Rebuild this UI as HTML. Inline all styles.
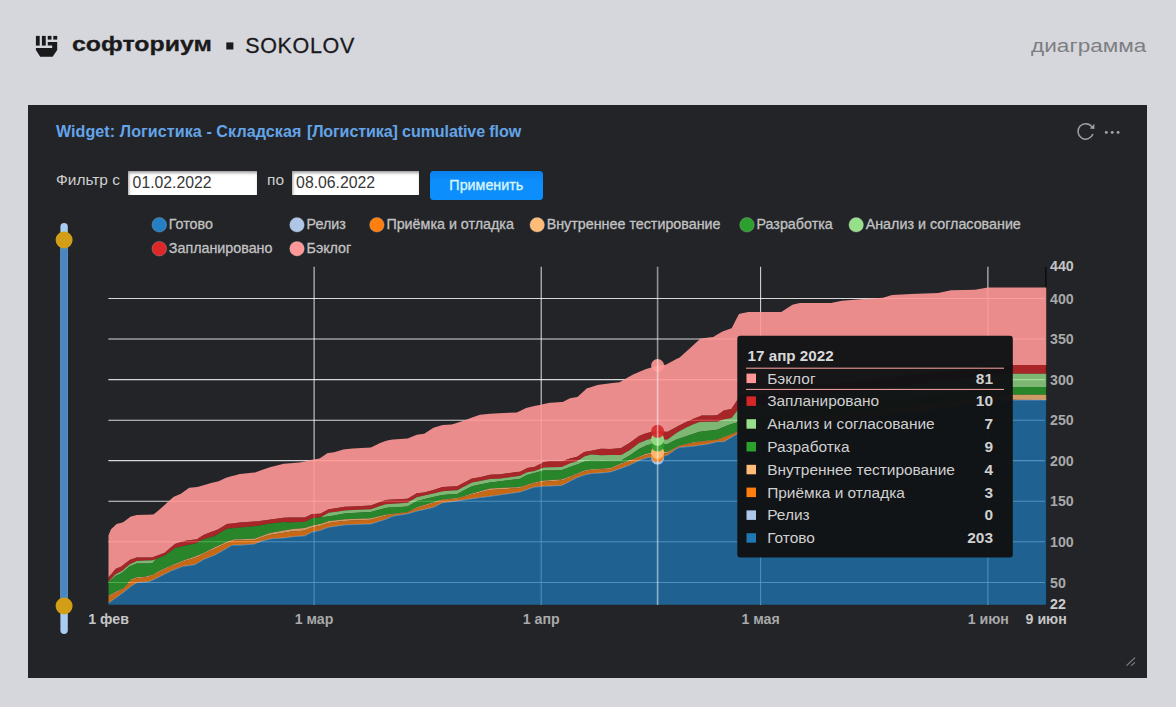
<!DOCTYPE html>
<html lang="ru"><head><meta charset="utf-8"><title>диаграмма</title>
<style>
html,body{margin:0;padding:0}
body{width:1176px;height:707px;background:#d6d7dc;position:relative;overflow:hidden;font-family:"Liberation Sans",sans-serif}
.abs{position:absolute;white-space:nowrap}
#card{position:absolute;left:28px;top:105px;width:1119px;height:572.5px;background:#222428}
#brand{left:72.2px;top:29.4px;font-size:21px;font-weight:bold;color:#1a1a1c;line-height:30px;transform-origin:0 0;transform:scaleX(1.185);-webkit-text-stroke:0.3px #1a1a1c}
#sok{left:245.2px;top:30.8px;font-size:21.5px;color:#1a1a1c;line-height:30px;letter-spacing:0.65px;-webkit-text-stroke:0.3px #1a1a1c}
#diag{right:30px;top:33.0px;font-size:17.5px;color:#7d7e82;line-height:26px;transform-origin:100% 0;transform:scaleX(1.29)}
#title{left:55.9px;top:120.5px;font-size:16.1px;font-weight:bold;color:#64a4e9;line-height:20px}
.lbl{font-size:15.47px;color:#cfcfcf;line-height:16px}
.inp{position:absolute;top:171.3px;height:23.6px;width:128.5px;background:#fff;box-sizing:border-box;font-size:15.8px;line-height:24.6px;color:#383838;padding-left:4.6px;box-shadow:inset 1px 2px 3px rgba(0,0,0,.38)}
#btn{position:absolute;left:430px;top:170.5px;width:112.6px;height:29px;border-radius:3.5px;background:linear-gradient(#0a80ec,#0c8efc 35%);color:#d8f4ff;font-size:14.3px;line-height:29.6px;text-align:center;-webkit-text-stroke:0.35px #d8f4ff}
svg{position:absolute;left:0;top:0}
svg text{font-family:"Liberation Sans",sans-serif}
#wrap{position:absolute;left:0;top:0;width:1176px;height:707px}
</style></head><body>
<div id="wrap">
<div id="card"></div>
<div class="abs" id="brand">софториум</div>
<div class="abs" id="sok">SOKOLOV</div>
<div class="abs" id="diag">диаграмма</div>
<div class="abs" id="title"><span style="letter-spacing:0.07px">Widget: Логистика - Складская</span><span style="margin-left:5.5px;letter-spacing:-0.12px">[Логистика] cumulative flow</span></div>
<div class="abs lbl" style="left:56px;top:171.5px">Фильтр с</div>
<div class="inp" style="left:128px">01.02.2022</div>
<div class="abs lbl" style="left:267px;top:171.5px">по</div>
<div class="inp" style="left:291.5px;width:127.8px">08.06.2022</div>
<div id="btn">Применить</div>
<svg width="1176" height="707" viewBox="0 0 1176 707">
<!-- logo -->
<g fill="#1a1a1c">
<rect x="35.9" y="35.9" width="3.8" height="9.7"/><rect x="41.9" y="35.9" width="3.85" height="9.7"/>
<rect x="47.75" y="35.9" width="3.75" height="3.7"/><rect x="53.3" y="35.9" width="3.9" height="3.7"/>
<path d="M47.75,42 H57.2 V49.9 L52.6,56.7 H40.2 L35.9,49.9 V47.9 H52.2 V45.6 H47.75 Z"/>
<rect x="226.3" y="42.4" width="7.1" height="7.1"/>
</g>
<!-- reload + dots -->
<g fill="none" stroke="#9ca1a7" stroke-width="1.5"><path d="M1091.77,126.66 A7.7,7.7 0 1 0 1092.94,134.03"/></g>
<path d="M1094.4,123.8 V129 L1089.7,128.5 Z" fill="#9ca1a7"/>
<g fill="#a4a8ae"><circle cx="1106.3" cy="132.4" r="1.45"/><circle cx="1112.2" cy="132.4" r="1.45"/><circle cx="1118.1" cy="132.4" r="1.45"/></g>
<g stroke="#80838a" stroke-width="1.2"><line x1="1126.5" y1="665.6" x2="1135" y2="657.6"/><line x1="1131.1" y1="665.6" x2="1135" y2="662.4"/></g>
<!-- slider -->
<rect x="60.4" y="223" width="7.4" height="411" rx="3.7" fill="#a9cdf0"/>
<rect x="60.4" y="240" width="7.4" height="366" fill="#4a87c0"/>
<circle cx="64.1" cy="240" r="8.5" fill="#d39e17"/><circle cx="64.1" cy="606" r="8.5" fill="#d39e17"/>
<!-- grid -->
<g stroke="#ffffff" stroke-opacity="0.82" stroke-width="1.05"><line x1="108.4" x2="1046" y1="298.4" y2="298.4"/><line x1="108.4" x2="1046" y1="339.0" y2="339.0"/><line x1="108.4" x2="1046" y1="379.6" y2="379.6"/><line x1="108.4" x2="1046" y1="420.2" y2="420.2"/><line x1="108.4" x2="1046" y1="460.6" y2="460.6"/><line x1="108.4" x2="1046" y1="501.2" y2="501.2"/><line x1="108.4" x2="1046" y1="541.7" y2="541.7"/><line x1="108.4" x2="1046" y1="582.4" y2="582.4"/><line x1="314.1" x2="314.1" y1="266.8" y2="605"/><line x1="541.2" x2="541.2" y1="266.8" y2="605"/><line x1="760.6" x2="760.6" y1="266.8" y2="605"/><line x1="987.9" x2="987.9" y1="266.8" y2="605"/></g>
<line x1="1045.8" x2="1045.8" y1="267" y2="605" stroke="#0c0d0e" stroke-width="1.5"/>
<!-- areas -->
<path d="M108.5,535.1 L108.6,534.9 L111.0,529.3 L115.5,525.0 L116.5,524.1 L121.4,522.7 L123.0,522.3 L123.8,521.7 L129.8,517.2 L130.3,516.8 L131.0,516.6 L136.8,514.9 L136.9,514.9 L145.2,514.7 L147.6,514.7 L152.4,514.6 L153.3,514.6 L156.0,512.4 L159.5,509.5 L160.7,508.5 L164.3,505.2 L171.4,498.8 L173.5,496.9 L175.0,496.3 L180.9,493.8 L183.3,492.0 L185.7,490.3 L189.2,487.7 L195.2,487.2 L196.4,487.1 L197.4,487.0 L200.0,486.3 L203.6,485.2 L211.0,483.0 L214.3,482.3 L217.6,481.5 L218.7,481.3 L225.4,478.0 L226.2,477.8 L226.8,477.6 L232.1,476.1 L234.5,475.5 L239.7,474.0 L240.0,474.0 L254.4,472.6 L255.1,472.5 L256.3,472.1 L261.8,470.1 L269.1,467.5 L270.6,467.0 L272.8,466.4 L283.8,463.7 L290.0,463.3 L291.2,463.2 L293.0,463.0 L299.2,462.6 L304.7,461.4 L310.2,460.1 L312.0,459.8 L319.4,458.6 L320.3,458.0 L327.7,453.1 L328.6,453.0 L334.1,452.2 L343.3,449.4 L345.1,449.2 L352.5,448.5 L370.9,447.6 L380.1,443.0 L385.6,441.1 L389.3,439.9 L393.0,439.6 L407.6,438.4 L416.8,434.7 L424.2,433.8 L433.4,427.7 L442.6,425.1 L451.8,424.6 L457.3,422.8 L462.8,420.9 L472.0,417.6 L480.0,414.7 L490.0,413.8 L494.7,413.4 L498.4,413.2 L516.8,412.5 L520.0,410.9 L526.0,407.9 L527.1,407.7 L534.3,406.1 L540.7,404.8 L543.8,404.1 L549.9,402.8 L551.0,402.7 L561.7,402.1 L562.7,402.0 L570.0,398.3 L570.1,398.2 L577.1,397.0 L577.4,396.9 L584.3,390.7 L586.6,388.6 L591.4,387.0 L597.6,384.9 L601.0,384.5 L610.5,383.3 L619.7,382.2 L621.2,381.3 L629.5,376.6 L632.6,374.8 L639.0,372.1 L645.4,369.3 L646.2,369.1 L652.1,367.2 L657.4,365.6 L657.5,365.6 L665.7,364.7 L667.6,363.7 L676.4,359.1 L679.7,357.4 L680.2,357.1 L686.3,351.5 L691.3,347.0 L692.9,345.5 L699.5,339.5 L700.4,338.7 L701.7,338.5 L708.4,337.6 L713.3,336.9 L717.2,334.6 L722.5,331.4 L723.8,330.9 L726.0,330.2 L731.5,328.3 L731.7,328.2 L737.0,317.8 L739.0,313.9 L741.0,313.5 L748.2,312.1 L781.0,312.1 L781.3,312.1 L792.4,304.7 L799.7,302.9 L800.0,302.9 L831.0,302.9 L842.0,300.7 L860.0,299.2 L883.0,297.7 L892.0,295.0 L892.3,294.9 L910.7,294.0 L938.2,293.1 L951.0,290.3 L951.1,290.3 L975.0,289.8 L987.9,287.6 L988.0,287.6 L1013.0,287.6 L1046.3,287.6 L1046.3,365.0 L1013.0,365.0 L988.0,366.0 L987.9,366.0 L975.0,367.8 L951.1,371.0 L951.0,371.0 L938.2,372.3 L910.7,375.1 L892.3,377.0 L892.0,377.0 L883.0,378.1 L860.0,380.8 L842.0,383.0 L831.0,383.8 L800.0,386.0 L799.7,386.1 L792.4,388.8 L781.3,392.9 L781.0,393.0 L748.2,394.6 L741.0,395.0 L739.0,397.7 L737.0,400.4 L731.7,408.6 L731.5,408.9 L726.0,410.1 L723.8,410.6 L722.5,411.6 L717.2,415.3 L713.3,415.4 L708.4,415.4 L701.7,415.5 L700.4,416.0 L699.5,416.4 L692.9,419.1 L691.3,419.8 L686.3,421.9 L680.2,425.0 L679.7,425.2 L676.4,426.9 L667.6,431.8 L665.7,431.7 L657.5,431.3 L657.4,431.3 L652.1,431.8 L646.2,433.3 L645.4,433.6 L639.0,436.0 L632.6,440.8 L629.5,443.1 L621.2,448.1 L619.7,448.2 L610.5,449.0 L601.0,448.8 L597.6,449.5 L591.4,450.8 L586.6,451.6 L584.3,452.0 L577.4,456.6 L577.1,456.8 L570.1,458.6 L570.0,458.6 L562.7,460.9 L561.7,461.2 L551.0,461.2 L549.9,461.3 L543.8,462.1 L540.7,463.7 L534.3,466.9 L527.1,468.1 L526.0,468.7 L520.0,471.7 L516.8,472.1 L498.4,474.4 L494.7,474.6 L490.0,474.8 L480.0,477.2 L472.0,478.5 L462.8,483.3 L457.3,486.2 L451.8,486.5 L442.6,487.1 L433.4,489.9 L424.2,492.6 L416.8,493.2 L407.6,498.7 L393.0,499.6 L389.3,499.8 L385.6,500.0 L380.1,502.1 L370.9,505.5 L352.5,506.4 L345.1,506.8 L343.3,507.1 L334.1,508.4 L328.6,509.2 L327.7,509.7 L320.3,513.8 L319.4,513.8 L312.0,514.1 L310.2,514.9 L304.7,517.4 L299.2,517.5 L293.0,517.6 L291.2,517.6 L290.0,517.6 L283.8,517.7 L272.8,519.2 L270.6,519.5 L269.1,519.7 L261.8,520.7 L256.3,521.4 L255.1,521.5 L254.4,521.5 L240.0,522.6 L239.7,522.6 L234.5,523.2 L232.1,523.5 L226.8,524.1 L226.2,524.5 L225.4,524.9 L218.7,528.9 L217.6,529.6 L214.3,530.9 L211.0,532.1 L203.6,535.0 L200.0,537.2 L197.4,538.9 L196.4,539.5 L195.2,539.6 L189.2,540.3 L185.7,540.7 L183.3,541.4 L180.9,542.1 L175.0,543.9 L173.5,545.2 L171.4,546.9 L164.3,552.9 L160.7,554.3 L159.5,554.7 L156.0,556.0 L153.3,557.1 L152.4,557.4 L147.6,557.5 L145.2,557.5 L136.9,557.6 L136.8,557.6 L131.0,559.6 L130.3,559.8 L129.8,560.0 L123.8,564.6 L123.0,565.3 L121.4,566.5 L116.5,568.5 L115.5,568.9 L111.0,574.4 L108.6,577.3 L108.5,577.3Z" fill="#ff9896" fill-opacity="0.9"/>
<path d="M108.5,577.3 L108.6,577.3 L111.0,574.4 L115.5,568.9 L116.5,568.5 L121.4,566.5 L123.0,565.3 L123.8,564.6 L129.8,560.0 L130.3,559.8 L131.0,559.6 L136.8,557.6 L136.9,557.6 L145.2,557.5 L147.6,557.5 L152.4,557.4 L153.3,557.1 L156.0,556.0 L159.5,554.7 L160.7,554.3 L164.3,552.9 L171.4,546.9 L173.5,545.2 L175.0,543.9 L180.9,542.1 L183.3,541.4 L185.7,540.7 L189.2,540.3 L195.2,539.6 L196.4,539.5 L197.4,538.9 L200.0,537.2 L203.6,535.0 L211.0,532.1 L214.3,530.9 L217.6,529.6 L218.7,528.9 L225.4,524.9 L226.2,524.5 L226.8,524.1 L232.1,523.5 L234.5,523.2 L239.7,522.6 L240.0,522.6 L254.4,521.5 L255.1,521.5 L256.3,521.4 L261.8,520.7 L269.1,519.7 L270.6,519.5 L272.8,519.2 L283.8,517.7 L290.0,517.6 L291.2,517.6 L293.0,517.6 L299.2,517.5 L304.7,517.4 L310.2,514.9 L312.0,514.1 L319.4,513.8 L320.3,513.8 L327.7,509.7 L328.6,509.2 L334.1,508.4 L343.3,507.1 L345.1,506.8 L352.5,506.4 L370.9,505.5 L380.1,502.1 L385.6,500.0 L389.3,499.8 L393.0,499.6 L407.6,498.7 L416.8,493.2 L424.2,492.6 L433.4,489.9 L442.6,487.1 L451.8,486.5 L457.3,486.2 L462.8,483.3 L472.0,478.5 L480.0,477.2 L490.0,474.8 L494.7,474.6 L498.4,474.4 L516.8,472.1 L520.0,471.7 L526.0,468.7 L527.1,468.1 L534.3,466.9 L540.7,463.7 L543.8,462.1 L549.9,461.3 L551.0,461.2 L561.7,461.2 L562.7,460.9 L570.0,458.6 L570.1,458.6 L577.1,456.8 L577.4,456.6 L584.3,452.0 L586.6,451.6 L591.4,450.8 L597.6,449.5 L601.0,448.8 L610.5,449.0 L619.7,448.2 L621.2,448.1 L629.5,443.1 L632.6,440.8 L639.0,436.0 L645.4,433.6 L646.2,433.3 L652.1,431.8 L657.4,431.3 L657.5,431.3 L665.7,431.7 L667.6,431.8 L676.4,426.9 L679.7,425.2 L680.2,425.0 L686.3,421.9 L691.3,419.8 L692.9,419.1 L699.5,416.4 L700.4,416.0 L701.7,415.5 L708.4,415.4 L713.3,415.4 L717.2,415.3 L722.5,411.6 L723.8,410.6 L726.0,410.1 L731.5,408.9 L731.7,408.6 L737.0,400.4 L739.0,397.7 L741.0,395.0 L748.2,394.6 L781.0,393.0 L781.3,392.9 L792.4,388.8 L799.7,386.1 L800.0,386.0 L831.0,383.8 L842.0,383.0 L860.0,380.8 L883.0,378.1 L892.0,377.0 L892.3,377.0 L910.7,375.1 L938.2,372.3 L951.0,371.0 L951.1,371.0 L975.0,367.8 L987.9,366.0 L988.0,366.0 L1013.0,365.0 L1046.3,365.0 L1046.3,373.8 L1013.0,373.8 L988.0,375.0 L987.9,375.0 L975.0,376.9 L951.1,380.5 L951.0,380.5 L938.2,381.9 L910.7,384.9 L892.3,387.0 L892.0,387.0 L883.0,388.1 L860.0,390.8 L842.0,393.0 L831.0,393.8 L800.0,396.0 L799.7,396.1 L792.4,399.0 L781.3,403.4 L781.0,403.5 L748.2,405.6 L741.0,406.0 L739.0,408.4 L737.0,410.9 L731.7,417.7 L731.5,418.0 L726.0,419.1 L723.8,419.5 L722.5,419.9 L717.2,421.7 L713.3,421.7 L708.4,421.8 L701.7,421.9 L700.4,421.9 L699.5,421.9 L692.9,424.6 L691.3,425.3 L686.3,427.4 L680.2,430.8 L679.7,431.1 L676.4,432.9 L667.6,439.5 L665.7,439.5 L657.5,439.4 L657.4,439.4 L652.1,438.6 L646.2,440.1 L645.4,440.4 L639.0,443.1 L632.6,447.9 L629.5,450.2 L621.2,455.0 L619.7,455.0 L610.5,455.1 L601.0,455.2 L597.6,454.9 L591.4,454.4 L586.6,455.8 L584.3,456.4 L577.4,461.0 L577.1,461.2 L570.1,463.3 L570.0,463.3 L562.7,466.5 L561.7,466.9 L551.0,467.3 L549.9,467.3 L543.8,467.5 L540.7,468.7 L534.3,471.1 L527.1,472.3 L526.0,472.8 L520.0,475.8 L516.8,476.2 L498.4,478.8 L494.7,478.8 L490.0,478.9 L480.0,480.9 L472.0,482.5 L462.8,487.3 L457.3,490.2 L451.8,490.6 L442.6,491.3 L433.4,493.4 L424.2,495.5 L416.8,497.2 L407.6,502.7 L393.0,503.7 L389.3,503.9 L385.6,504.2 L380.1,506.1 L370.9,509.2 L352.5,510.1 L345.1,510.4 L343.3,510.7 L334.1,512.0 L328.6,512.8 L327.7,513.3 L320.3,517.4 L319.4,517.5 L312.0,518.3 L310.2,519.2 L304.7,522.0 L299.2,522.1 L293.0,522.3 L291.2,522.4 L290.0,522.4 L283.8,521.9 L272.8,523.2 L270.6,523.6 L269.1,523.8 L261.8,525.1 L256.3,526.0 L255.1,526.1 L254.4,526.2 L240.0,527.4 L239.7,527.4 L234.5,527.9 L232.1,528.2 L226.8,528.7 L226.2,529.1 L225.4,529.5 L218.7,533.6 L217.6,534.2 L214.3,536.2 L211.0,537.1 L203.6,539.2 L200.0,541.1 L197.4,542.6 L196.4,543.1 L195.2,543.4 L189.2,544.7 L185.7,545.5 L183.3,546.1 L180.9,546.7 L175.0,548.1 L173.5,549.2 L171.4,550.7 L164.3,555.8 L160.7,557.1 L159.5,557.6 L156.0,558.9 L153.3,559.9 L152.4,560.2 L147.6,560.4 L145.2,560.6 L136.9,561.0 L136.8,561.0 L131.0,563.7 L130.3,564.0 L129.8,564.2 L123.8,569.3 L123.0,569.9 L121.4,571.3 L116.5,573.8 L115.5,574.3 L111.0,578.9 L108.6,581.4 L108.5,581.4Z" fill="#d62728" fill-opacity="0.75"/>
<path d="M108.5,581.4 L108.6,581.4 L111.0,578.9 L115.5,574.3 L116.5,573.8 L121.4,571.3 L123.0,569.9 L123.8,569.3 L129.8,564.2 L130.3,564.0 L131.0,563.7 L136.8,561.0 L136.9,561.0 L145.2,560.6 L147.6,560.4 L152.4,560.2 L153.3,559.9 L156.0,558.9 L159.5,557.6 L160.7,557.1 L164.3,555.8 L171.4,550.7 L173.5,549.2 L175.0,548.1 L180.9,546.7 L183.3,546.1 L185.7,545.5 L189.2,544.7 L195.2,543.4 L196.4,543.1 L197.4,542.6 L200.0,541.1 L203.6,539.2 L211.0,537.1 L214.3,536.2 L217.6,534.2 L218.7,533.6 L225.4,529.5 L226.2,529.1 L226.8,528.7 L232.1,528.2 L234.5,527.9 L239.7,527.4 L240.0,527.4 L254.4,526.2 L255.1,526.1 L256.3,526.0 L261.8,525.1 L269.1,523.8 L270.6,523.6 L272.8,523.2 L283.8,521.9 L290.0,522.4 L291.2,522.4 L293.0,522.3 L299.2,522.1 L304.7,522.0 L310.2,519.2 L312.0,518.3 L319.4,517.5 L320.3,517.4 L327.7,513.3 L328.6,512.8 L334.1,512.0 L343.3,510.7 L345.1,510.4 L352.5,510.1 L370.9,509.2 L380.1,506.1 L385.6,504.2 L389.3,503.9 L393.0,503.7 L407.6,502.7 L416.8,497.2 L424.2,495.5 L433.4,493.4 L442.6,491.3 L451.8,490.6 L457.3,490.2 L462.8,487.3 L472.0,482.5 L480.0,480.9 L490.0,478.9 L494.7,478.8 L498.4,478.8 L516.8,476.2 L520.0,475.8 L526.0,472.8 L527.1,472.3 L534.3,471.1 L540.7,468.7 L543.8,467.5 L549.9,467.3 L551.0,467.3 L561.7,466.9 L562.7,466.5 L570.0,463.3 L570.1,463.3 L577.1,461.2 L577.4,461.0 L584.3,456.4 L586.6,455.8 L591.4,454.4 L597.6,454.9 L601.0,455.2 L610.5,455.1 L619.7,455.0 L621.2,455.0 L629.5,450.2 L632.6,447.9 L639.0,443.1 L645.4,440.4 L646.2,440.1 L652.1,438.6 L657.4,439.4 L657.5,439.4 L665.7,439.5 L667.6,439.5 L676.4,432.9 L679.7,431.1 L680.2,430.8 L686.3,427.4 L691.3,425.3 L692.9,424.6 L699.5,421.9 L700.4,421.9 L701.7,421.9 L708.4,421.8 L713.3,421.7 L717.2,421.7 L722.5,419.9 L723.8,419.5 L726.0,419.1 L731.5,418.0 L731.7,417.7 L737.0,410.9 L739.0,408.4 L741.0,406.0 L748.2,405.6 L781.0,403.5 L781.3,403.4 L792.4,399.0 L799.7,396.1 L800.0,396.0 L831.0,393.8 L842.0,393.0 L860.0,390.8 L883.0,388.1 L892.0,387.0 L892.3,387.0 L910.7,384.9 L938.2,381.9 L951.0,380.5 L951.1,380.5 L975.0,376.9 L987.9,375.0 L988.0,375.0 L1013.0,373.8 L1046.3,373.8 L1046.3,387.1 L1013.0,387.1 L988.0,388.5 L987.9,388.5 L975.0,390.4 L951.1,394.0 L951.0,394.0 L938.2,395.3 L910.7,398.1 L892.3,400.0 L892.0,400.0 L883.0,401.1 L860.0,403.8 L842.0,406.0 L831.0,406.8 L800.0,409.0 L799.7,409.1 L792.4,411.8 L781.3,415.9 L781.0,416.0 L748.2,417.6 L741.0,418.0 L739.0,420.2 L737.0,422.4 L731.7,424.0 L731.5,424.1 L726.0,426.1 L723.8,426.9 L722.5,427.5 L717.2,429.8 L713.3,430.2 L708.4,430.8 L701.7,431.6 L700.4,431.7 L699.5,431.8 L692.9,434.0 L691.3,434.5 L686.3,436.2 L680.2,438.2 L679.7,438.4 L676.4,439.5 L667.6,443.9 L665.7,444.1 L657.5,445.1 L657.4,445.1 L652.1,444.0 L646.2,445.5 L645.4,445.9 L639.0,449.0 L632.6,453.4 L629.5,455.6 L621.2,460.4 L619.7,460.4 L610.5,460.6 L601.0,460.7 L597.6,460.6 L591.4,460.4 L586.6,461.1 L584.3,461.5 L577.4,464.4 L577.1,464.5 L570.1,466.9 L570.0,466.9 L562.7,469.8 L561.7,470.2 L551.0,470.4 L549.9,470.4 L543.8,470.5 L540.7,471.3 L534.3,473.1 L527.1,475.0 L526.0,475.6 L520.0,478.8 L516.8,479.2 L498.4,481.5 L494.7,482.0 L490.0,482.6 L480.0,484.6 L472.0,486.2 L462.8,491.0 L457.3,493.9 L451.8,494.3 L442.6,495.0 L433.4,497.1 L424.2,499.2 L416.8,500.9 L407.6,506.4 L393.0,507.4 L389.3,507.6 L385.6,507.9 L380.1,509.4 L370.9,511.9 L352.5,513.0 L345.1,513.4 L343.3,513.7 L334.1,515.5 L328.6,516.5 L327.7,516.6 L320.3,517.4 L319.4,517.5 L312.0,518.3 L310.2,519.2 L304.7,522.0 L299.2,522.1 L293.0,522.3 L291.2,522.4 L290.0,522.4 L283.8,521.9 L272.8,523.2 L270.6,523.6 L269.1,523.8 L261.8,525.1 L256.3,526.0 L255.1,526.1 L254.4,526.2 L240.0,527.4 L239.7,527.4 L234.5,527.9 L232.1,528.2 L226.8,528.7 L226.2,529.1 L225.4,529.5 L218.7,533.6 L217.6,534.2 L214.3,536.2 L211.0,537.1 L203.6,539.2 L200.0,541.1 L197.4,542.6 L196.4,543.1 L195.2,543.4 L189.2,544.7 L185.7,545.5 L183.3,546.1 L180.9,546.7 L175.0,548.1 L173.5,549.2 L171.4,550.7 L164.3,555.8 L160.7,557.1 L159.5,557.6 L156.0,558.9 L153.3,562.2 L152.4,563.3 L147.6,563.4 L145.2,563.4 L136.9,563.6 L136.8,563.6 L131.0,565.8 L130.3,566.0 L129.8,566.2 L123.8,571.3 L123.0,571.9 L121.4,573.3 L116.5,575.6 L115.5,576.1 L111.0,579.9 L108.6,582.0 L108.5,582.0Z" fill="#98df8a" fill-opacity="0.78"/>
<path d="M108.5,582.0 L108.6,582.0 L111.0,579.9 L115.5,576.1 L116.5,575.6 L121.4,573.3 L123.0,571.9 L123.8,571.3 L129.8,566.2 L130.3,566.0 L131.0,565.8 L136.8,563.6 L136.9,563.6 L145.2,563.4 L147.6,563.4 L152.4,563.3 L153.3,562.2 L156.0,558.9 L159.5,557.6 L160.7,557.1 L164.3,555.8 L171.4,550.7 L173.5,549.2 L175.0,548.1 L180.9,546.7 L183.3,546.1 L185.7,545.5 L189.2,544.7 L195.2,543.4 L196.4,543.1 L197.4,542.6 L200.0,541.1 L203.6,539.2 L211.0,537.1 L214.3,536.2 L217.6,534.2 L218.7,533.6 L225.4,529.5 L226.2,529.1 L226.8,528.7 L232.1,528.2 L234.5,527.9 L239.7,527.4 L240.0,527.4 L254.4,526.2 L255.1,526.1 L256.3,526.0 L261.8,525.1 L269.1,523.8 L270.6,523.6 L272.8,523.2 L283.8,521.9 L290.0,522.4 L291.2,522.4 L293.0,522.3 L299.2,522.1 L304.7,522.0 L310.2,519.2 L312.0,518.3 L319.4,517.5 L320.3,517.4 L327.7,516.6 L328.6,516.5 L334.1,515.5 L343.3,513.7 L345.1,513.4 L352.5,513.0 L370.9,511.9 L380.1,509.4 L385.6,507.9 L389.3,507.6 L393.0,507.4 L407.6,506.4 L416.8,500.9 L424.2,499.2 L433.4,497.1 L442.6,495.0 L451.8,494.3 L457.3,493.9 L462.8,491.0 L472.0,486.2 L480.0,484.6 L490.0,482.6 L494.7,482.0 L498.4,481.5 L516.8,479.2 L520.0,478.8 L526.0,475.6 L527.1,475.0 L534.3,473.1 L540.7,471.3 L543.8,470.5 L549.9,470.4 L551.0,470.4 L561.7,470.2 L562.7,469.8 L570.0,466.9 L570.1,466.9 L577.1,464.5 L577.4,464.4 L584.3,461.5 L586.6,461.1 L591.4,460.4 L597.6,460.6 L601.0,460.7 L610.5,460.6 L619.7,460.4 L621.2,460.4 L629.5,455.6 L632.6,453.4 L639.0,449.0 L645.4,445.9 L646.2,445.5 L652.1,444.0 L657.4,445.1 L657.5,445.1 L665.7,444.1 L667.6,443.9 L676.4,439.5 L679.7,438.4 L680.2,438.2 L686.3,436.2 L691.3,434.5 L692.9,434.0 L699.5,431.8 L700.4,431.7 L701.7,431.6 L708.4,430.8 L713.3,430.2 L717.2,429.8 L722.5,427.5 L723.8,426.9 L726.0,426.1 L731.5,424.1 L731.7,424.0 L737.0,422.4 L739.0,420.2 L741.0,418.0 L748.2,417.6 L781.0,416.0 L781.3,415.9 L792.4,411.8 L799.7,409.1 L800.0,409.0 L831.0,406.8 L842.0,406.0 L860.0,403.8 L883.0,401.1 L892.0,400.0 L892.3,400.0 L910.7,398.1 L938.2,395.3 L951.0,394.0 L951.1,394.0 L975.0,390.4 L987.9,388.5 L988.0,388.5 L1013.0,387.1 L1046.3,387.1 L1046.3,394.8 L1013.0,394.8 L988.0,396.0 L987.9,396.0 L975.0,398.1 L951.1,402.0 L951.0,402.0 L938.2,403.5 L910.7,406.8 L892.3,409.0 L892.0,409.0 L883.0,410.1 L860.0,412.8 L842.0,415.0 L831.0,415.8 L800.0,418.0 L799.7,418.1 L792.4,421.0 L781.3,425.4 L781.0,425.5 L748.2,427.6 L741.0,428.0 L739.0,429.9 L737.0,431.8 L731.7,433.9 L731.5,434.0 L726.0,436.2 L723.8,437.0 L722.5,437.5 L717.2,439.5 L713.3,440.0 L708.4,440.6 L701.7,441.3 L700.4,441.5 L699.5,441.6 L692.9,442.3 L691.3,442.7 L686.3,444.0 L680.2,445.5 L679.7,445.6 L676.4,447.3 L667.6,451.7 L665.7,451.8 L657.5,452.4 L657.4,452.4 L652.1,452.6 L646.2,453.8 L645.4,454.1 L639.0,456.8 L632.6,459.2 L629.5,460.4 L621.2,463.3 L619.7,464.0 L610.5,468.1 L601.0,468.7 L597.6,468.9 L591.4,469.3 L586.6,470.1 L584.3,470.5 L577.4,473.4 L577.1,473.5 L570.1,476.4 L570.0,476.4 L562.7,479.0 L561.7,479.4 L551.0,480.1 L549.9,480.2 L543.8,480.6 L540.7,481.2 L534.3,482.4 L527.1,484.8 L526.0,485.2 L520.0,487.1 L516.8,487.2 L498.4,488.0 L494.7,488.2 L490.0,488.4 L480.0,491.2 L472.0,493.5 L462.8,496.4 L457.3,498.1 L451.8,498.6 L442.6,499.4 L433.4,502.2 L424.2,505.0 L416.8,507.3 L407.6,511.9 L393.0,513.8 L389.3,514.2 L385.6,514.7 L380.1,516.0 L370.9,518.3 L352.5,519.0 L345.1,519.3 L343.3,519.5 L334.1,520.5 L328.6,521.1 L327.7,521.4 L320.3,523.9 L319.4,524.1 L312.0,525.7 L310.2,526.3 L304.7,528.1 L299.2,528.6 L293.0,529.1 L291.2,529.3 L290.0,529.5 L283.8,530.6 L272.8,532.6 L270.6,533.0 L269.1,533.3 L261.8,536.0 L256.3,538.1 L255.1,538.5 L254.4,538.8 L240.0,539.2 L239.7,539.2 L234.5,539.2 L232.1,540.0 L226.8,541.9 L226.2,542.1 L225.4,542.5 L218.7,545.5 L217.6,546.0 L214.3,547.5 L211.0,549.2 L203.6,552.9 L200.0,554.4 L197.4,555.5 L196.4,555.9 L195.2,556.4 L189.2,558.5 L185.7,559.8 L183.3,560.6 L180.9,561.6 L175.0,563.9 L173.5,564.6 L171.4,565.4 L164.3,568.6 L160.7,570.2 L159.5,570.7 L156.0,572.8 L153.3,574.4 L152.4,574.9 L147.6,576.1 L145.2,576.7 L136.9,577.3 L136.8,577.3 L131.0,579.6 L130.3,580.4 L129.8,581.0 L123.8,588.0 L123.0,588.4 L121.4,589.2 L116.5,591.6 L115.5,592.1 L111.0,594.4 L108.6,595.7 L108.5,595.7Z" fill="#2ca02c" fill-opacity="0.78"/>
<path d="M108.5,595.7 L108.6,595.7 L111.0,594.4 L115.5,592.1 L116.5,591.6 L121.4,589.2 L123.0,588.4 L123.8,588.0 L129.8,581.0 L130.3,580.4 L131.0,579.6 L136.8,577.3 L136.9,577.3 L145.2,576.7 L147.6,576.1 L152.4,574.9 L153.3,574.4 L156.0,572.8 L159.5,570.7 L160.7,570.2 L164.3,568.6 L171.4,565.4 L173.5,564.6 L175.0,563.9 L180.9,561.6 L183.3,560.6 L185.7,559.8 L189.2,558.5 L195.2,556.4 L196.4,555.9 L197.4,555.5 L200.0,554.4 L203.6,552.9 L211.0,549.2 L214.3,547.5 L217.6,546.0 L218.7,545.5 L225.4,542.5 L226.2,542.1 L226.8,541.9 L232.1,540.0 L234.5,539.2 L239.7,539.2 L240.0,539.2 L254.4,538.8 L255.1,538.5 L256.3,538.1 L261.8,536.0 L269.1,533.3 L270.6,533.0 L272.8,532.6 L283.8,530.6 L290.0,529.5 L291.2,529.3 L293.0,529.1 L299.2,528.6 L304.7,528.1 L310.2,526.3 L312.0,525.7 L319.4,524.1 L320.3,523.9 L327.7,521.4 L328.6,521.1 L334.1,520.5 L343.3,519.5 L345.1,519.3 L352.5,519.0 L370.9,518.3 L380.1,516.0 L385.6,514.7 L389.3,514.2 L393.0,513.8 L407.6,511.9 L416.8,507.3 L424.2,505.0 L433.4,502.2 L442.6,499.4 L451.8,498.6 L457.3,498.1 L462.8,496.4 L472.0,493.5 L480.0,491.2 L490.0,488.4 L494.7,488.2 L498.4,488.0 L516.8,487.2 L520.0,487.1 L526.0,485.2 L527.1,484.8 L534.3,482.4 L540.7,481.2 L543.8,480.6 L549.9,480.2 L551.0,480.1 L561.7,479.4 L562.7,479.0 L570.0,476.4 L570.1,476.4 L577.1,473.5 L577.4,473.4 L584.3,470.5 L586.6,470.1 L591.4,469.3 L597.6,468.9 L601.0,468.7 L610.5,468.1 L619.7,464.0 L621.2,463.3 L629.5,460.4 L632.6,459.2 L639.0,456.8 L645.4,454.1 L646.2,453.8 L652.1,452.6 L657.4,452.4 L657.5,452.4 L665.7,451.8 L667.6,451.7 L676.4,447.3 L679.7,445.6 L680.2,445.5 L686.3,444.0 L691.3,442.7 L692.9,442.3 L699.5,441.6 L700.4,441.5 L701.7,441.3 L708.4,440.6 L713.3,440.0 L717.2,439.5 L722.5,437.5 L723.8,437.0 L726.0,436.2 L731.5,434.0 L731.7,433.9 L737.0,431.8 L739.0,429.9 L741.0,428.0 L748.2,427.6 L781.0,425.5 L781.3,425.4 L792.4,421.0 L799.7,418.1 L800.0,418.0 L831.0,415.8 L842.0,415.0 L860.0,412.8 L883.0,410.1 L892.0,409.0 L892.3,409.0 L910.7,406.8 L938.2,403.5 L951.0,402.0 L951.1,402.0 L975.0,398.1 L987.9,396.0 L988.0,396.0 L1013.0,394.8 L1046.3,394.8 L1046.3,400.0 L1013.0,399.6 L988.0,400.9 L987.9,400.9 L975.0,402.7 L951.1,406.0 L951.0,406.0 L938.2,407.4 L910.7,410.4 L892.3,412.4 L892.0,412.4 L883.0,413.4 L860.0,415.8 L842.0,417.6 L831.0,418.2 L800.0,420.0 L799.7,420.1 L792.4,422.7 L781.3,426.8 L781.0,426.9 L748.2,428.2 L741.0,428.5 L739.0,430.3 L737.0,432.1 L731.7,434.4 L731.5,434.5 L726.0,436.8 L723.8,437.6 L722.5,438.0 L717.2,439.8 L713.3,440.3 L708.4,441.0 L701.7,441.7 L700.4,441.8 L699.5,442.0 L692.9,442.9 L691.3,443.3 L686.3,444.6 L680.2,446.0 L679.7,446.1 L676.4,447.8 L667.6,453.0 L665.7,453.3 L657.5,454.8 L657.4,454.8 L652.1,454.1 L646.2,455.0 L645.4,455.2 L639.0,457.5 L632.6,460.1 L629.5,461.3 L621.2,464.3 L619.7,464.9 L610.5,468.9 L601.0,469.5 L597.6,469.8 L591.4,470.1 L586.6,471.0 L584.3,471.4 L577.4,474.2 L577.1,474.3 L570.1,477.3 L570.0,477.4 L562.7,480.2 L561.7,480.6 L551.0,481.3 L549.9,481.3 L543.8,481.7 L540.7,482.2 L534.3,483.3 L527.1,485.7 L526.0,486.1 L520.0,488.1 L516.8,488.3 L498.4,489.4 L494.7,489.7 L490.0,490.0 L480.0,492.5 L472.0,494.5 L462.8,497.1 L457.3,498.7 L451.8,499.2 L442.6,500.1 L433.4,503.3 L424.2,506.0 L416.8,508.1 L407.6,512.3 L393.0,514.3 L389.3,515.1 L385.6,515.8 L380.1,517.3 L370.9,519.8 L352.5,520.6 L345.1,520.9 L343.3,521.1 L334.1,522.2 L328.6,522.9 L327.7,523.2 L320.3,525.8 L319.4,526.0 L312.0,527.6 L310.2,528.3 L304.7,530.4 L299.2,530.9 L293.0,531.4 L291.2,531.6 L290.0,531.8 L283.8,532.8 L272.8,534.4 L270.6,534.8 L269.1,535.1 L261.8,537.5 L256.3,539.5 L255.1,540.0 L254.4,540.2 L240.0,540.4 L239.7,540.4 L234.5,540.4 L232.1,541.0 L226.8,543.1 L226.2,543.4 L225.4,543.8 L218.7,546.9 L217.6,547.4 L214.3,549.0 L211.0,550.6 L203.6,554.1 L200.0,555.7 L197.4,556.9 L196.4,557.3 L195.2,557.9 L189.2,559.8 L185.7,560.8 L183.3,561.6 L180.9,562.6 L175.0,564.9 L173.5,565.5 L171.4,566.3 L164.3,569.5 L160.7,571.2 L159.5,571.7 L156.0,573.7 L153.3,575.3 L152.4,575.8 L147.6,577.1 L145.2,577.6 L136.9,578.2 L136.8,578.2 L131.0,580.6 L130.3,581.4 L129.8,582.0 L123.8,588.6 L123.0,589.1 L121.4,589.9 L116.5,592.5 L115.5,593.0 L111.0,595.5 L108.6,596.8 L108.5,596.8Z" fill="#ffbb78" fill-opacity="0.78"/>
<path d="M108.5,596.8 L108.6,596.8 L111.0,595.5 L115.5,593.0 L116.5,592.5 L121.4,589.9 L123.0,589.1 L123.8,588.6 L129.8,582.0 L130.3,581.4 L131.0,580.6 L136.8,578.2 L136.9,578.2 L145.2,577.6 L147.6,577.1 L152.4,575.8 L153.3,575.3 L156.0,573.7 L159.5,571.7 L160.7,571.2 L164.3,569.5 L171.4,566.3 L173.5,565.5 L175.0,564.9 L180.9,562.6 L183.3,561.6 L185.7,560.8 L189.2,559.8 L195.2,557.9 L196.4,557.3 L197.4,556.9 L200.0,555.7 L203.6,554.1 L211.0,550.6 L214.3,549.0 L217.6,547.4 L218.7,546.9 L225.4,543.8 L226.2,543.4 L226.8,543.1 L232.1,541.0 L234.5,540.4 L239.7,540.4 L240.0,540.4 L254.4,540.2 L255.1,540.0 L256.3,539.5 L261.8,537.5 L269.1,535.1 L270.6,534.8 L272.8,534.4 L283.8,532.8 L290.0,531.8 L291.2,531.6 L293.0,531.4 L299.2,530.9 L304.7,530.4 L310.2,528.3 L312.0,527.6 L319.4,526.0 L320.3,525.8 L327.7,523.2 L328.6,522.9 L334.1,522.2 L343.3,521.1 L345.1,520.9 L352.5,520.6 L370.9,519.8 L380.1,517.3 L385.6,515.8 L389.3,515.1 L393.0,514.3 L407.6,512.3 L416.8,508.1 L424.2,506.0 L433.4,503.3 L442.6,500.1 L451.8,499.2 L457.3,498.7 L462.8,497.1 L472.0,494.5 L480.0,492.5 L490.0,490.0 L494.7,489.7 L498.4,489.4 L516.8,488.3 L520.0,488.1 L526.0,486.1 L527.1,485.7 L534.3,483.3 L540.7,482.2 L543.8,481.7 L549.9,481.3 L551.0,481.3 L561.7,480.6 L562.7,480.2 L570.0,477.4 L570.1,477.3 L577.1,474.3 L577.4,474.2 L584.3,471.4 L586.6,471.0 L591.4,470.1 L597.6,469.8 L601.0,469.5 L610.5,468.9 L619.7,464.9 L621.2,464.3 L629.5,461.3 L632.6,460.1 L639.0,457.5 L645.4,455.2 L646.2,455.0 L652.1,454.1 L657.4,454.8 L657.5,454.8 L665.7,453.3 L667.6,453.0 L676.4,447.8 L679.7,446.1 L680.2,446.0 L686.3,444.6 L691.3,443.3 L692.9,442.9 L699.5,442.0 L700.4,441.8 L701.7,441.7 L708.4,441.0 L713.3,440.3 L717.2,439.8 L722.5,438.0 L723.8,437.6 L726.0,436.8 L731.5,434.5 L731.7,434.4 L737.0,432.1 L739.0,430.3 L741.0,428.5 L748.2,428.2 L781.0,426.9 L781.3,426.8 L792.4,422.7 L799.7,420.1 L800.0,420.0 L831.0,418.2 L842.0,417.6 L860.0,415.8 L883.0,413.4 L892.0,412.4 L892.3,412.4 L910.7,410.4 L938.2,407.4 L951.0,406.0 L951.1,406.0 L975.0,402.7 L987.9,400.9 L988.0,400.9 L1013.0,399.6 L1046.3,400.0 L1046.3,400.0 L1013.0,400.0 L988.0,401.5 L987.9,401.5 L975.0,403.4 L951.1,407.0 L951.0,407.0 L938.2,408.5 L910.7,411.8 L892.3,414.0 L892.0,414.0 L883.0,415.0 L860.0,417.5 L842.0,419.5 L831.0,420.2 L800.0,422.0 L799.7,422.1 L792.4,424.8 L781.3,428.9 L781.0,429.0 L748.2,430.6 L741.0,431.0 L739.0,432.5 L737.0,434.0 L731.7,437.2 L731.5,437.3 L726.0,440.4 L723.8,441.7 L722.5,441.7 L717.2,441.7 L713.3,442.7 L708.4,443.9 L701.7,444.9 L700.4,445.1 L699.5,445.2 L692.9,446.2 L691.3,446.3 L686.3,446.8 L680.2,447.3 L679.7,447.3 L676.4,448.9 L667.6,455.0 L665.7,455.6 L657.5,458.1 L657.4,458.1 L652.1,456.8 L646.2,458.0 L645.4,458.3 L639.0,460.4 L632.6,463.6 L629.5,465.1 L621.2,468.3 L619.7,468.8 L610.5,471.9 L601.0,472.9 L597.6,473.1 L591.4,473.5 L586.6,474.5 L584.3,475.0 L577.4,477.5 L577.1,477.6 L570.1,481.1 L570.0,481.2 L562.7,484.9 L561.7,485.4 L551.0,485.9 L549.9,485.9 L543.8,486.2 L540.7,486.5 L534.3,487.1 L527.1,489.5 L526.0,489.9 L520.0,491.9 L516.8,492.4 L498.4,495.1 L494.7,495.6 L490.0,496.3 L480.0,497.6 L472.0,498.7 L462.8,500.1 L457.3,500.9 L451.8,501.6 L442.6,502.7 L433.4,507.3 L424.2,509.4 L416.8,511.0 L407.6,513.8 L393.0,516.0 L389.3,517.6 L385.6,519.3 L380.1,521.0 L370.9,523.9 L352.5,524.5 L345.1,524.8 L343.3,525.1 L334.1,526.4 L328.6,527.2 L327.7,527.5 L320.3,530.3 L319.4,530.5 L312.0,532.1 L310.2,533.0 L304.7,535.8 L299.2,536.2 L293.0,536.6 L291.2,536.9 L290.0,537.0 L283.8,537.9 L272.8,538.5 L270.6,539.0 L269.1,539.3 L261.8,541.0 L256.3,543.2 L255.1,543.7 L254.4,544.0 L240.0,545.1 L239.7,545.1 L234.5,545.1 L232.1,545.1 L226.8,548.3 L226.2,548.7 L225.4,549.1 L218.7,552.8 L217.6,553.4 L214.3,555.2 L211.0,556.5 L203.6,559.4 L200.0,561.6 L197.4,563.2 L196.4,563.8 L195.2,564.5 L189.2,565.4 L185.7,565.9 L183.3,566.2 L180.9,567.1 L175.0,569.3 L173.5,569.9 L171.4,570.7 L164.3,574.3 L160.7,576.1 L159.5,576.7 L156.0,578.4 L153.3,579.8 L152.4,580.2 L147.6,582.0 L145.2,582.1 L136.9,582.6 L136.8,582.7 L131.0,586.2 L130.3,586.8 L129.8,587.2 L123.8,592.1 L123.0,592.7 L121.4,593.8 L116.5,597.4 L115.5,598.1 L111.0,601.2 L108.6,602.9 L108.5,602.9Z" fill="#ff7f0e" fill-opacity="0.75"/>
<path d="M108.5,602.9 L108.6,602.9 L111.0,601.2 L115.5,598.1 L116.5,597.4 L121.4,593.8 L123.0,592.7 L123.8,592.1 L129.8,587.2 L130.3,586.8 L131.0,586.2 L136.8,582.7 L136.9,582.6 L145.2,582.1 L147.6,582.0 L152.4,580.2 L153.3,579.8 L156.0,578.4 L159.5,576.7 L160.7,576.1 L164.3,574.3 L171.4,570.7 L173.5,569.9 L175.0,569.3 L180.9,567.1 L183.3,566.2 L185.7,565.9 L189.2,565.4 L195.2,564.5 L196.4,563.8 L197.4,563.2 L200.0,561.6 L203.6,559.4 L211.0,556.5 L214.3,555.2 L217.6,553.4 L218.7,552.8 L225.4,549.1 L226.2,548.7 L226.8,548.3 L232.1,545.1 L234.5,545.1 L239.7,545.1 L240.0,545.1 L254.4,544.0 L255.1,543.7 L256.3,543.2 L261.8,541.0 L269.1,539.3 L270.6,539.0 L272.8,538.5 L283.8,537.9 L290.0,537.0 L291.2,536.9 L293.0,536.6 L299.2,536.2 L304.7,535.8 L310.2,533.0 L312.0,532.1 L319.4,530.5 L320.3,530.3 L327.7,527.5 L328.6,527.2 L334.1,526.4 L343.3,525.1 L345.1,524.8 L352.5,524.5 L370.9,523.9 L380.1,521.0 L385.6,519.3 L389.3,517.6 L393.0,516.0 L407.6,513.8 L416.8,511.0 L424.2,509.4 L433.4,507.3 L442.6,502.7 L451.8,501.6 L457.3,500.9 L462.8,500.1 L472.0,498.7 L480.0,497.6 L490.0,496.3 L494.7,495.6 L498.4,495.1 L516.8,492.4 L520.0,491.9 L526.0,489.9 L527.1,489.5 L534.3,487.1 L540.7,486.5 L543.8,486.2 L549.9,485.9 L551.0,485.9 L561.7,485.4 L562.7,484.9 L570.0,481.2 L570.1,481.1 L577.1,477.6 L577.4,477.5 L584.3,475.0 L586.6,474.5 L591.4,473.5 L597.6,473.1 L601.0,472.9 L610.5,471.9 L619.7,468.8 L621.2,468.3 L629.5,465.1 L632.6,463.6 L639.0,460.4 L645.4,458.3 L646.2,458.0 L652.1,456.8 L657.4,458.1 L657.5,458.1 L665.7,455.6 L667.6,455.0 L676.4,448.9 L679.7,447.3 L680.2,447.3 L686.3,446.8 L691.3,446.3 L692.9,446.2 L699.5,445.2 L700.4,445.1 L701.7,444.9 L708.4,443.9 L713.3,442.7 L717.2,441.7 L722.5,441.7 L723.8,441.7 L726.0,440.4 L731.5,437.3 L731.7,437.2 L737.0,434.0 L739.0,432.5 L741.0,431.0 L748.2,430.6 L781.0,429.0 L781.3,428.9 L792.4,424.8 L799.7,422.1 L800.0,422.0 L831.0,420.2 L842.0,419.5 L860.0,417.5 L883.0,415.0 L892.0,414.0 L892.3,414.0 L910.7,411.8 L938.2,408.5 L951.0,407.0 L951.1,407.0 L975.0,403.4 L987.9,401.5 L988.0,401.5 L1013.0,400.0 L1046.3,400.0 L1046.3,604.8 L1013.0,604.8 L988.0,604.8 L987.9,604.8 L975.0,604.8 L951.1,604.8 L951.0,604.8 L938.2,604.8 L910.7,604.8 L892.3,604.8 L892.0,604.8 L883.0,604.8 L860.0,604.8 L842.0,604.8 L831.0,604.8 L800.0,604.8 L799.7,604.8 L792.4,604.8 L781.3,604.8 L781.0,604.8 L748.2,604.8 L741.0,604.8 L739.0,604.8 L737.0,604.8 L731.7,604.8 L731.5,604.8 L726.0,604.8 L723.8,604.8 L722.5,604.8 L717.2,604.8 L713.3,604.8 L708.4,604.8 L701.7,604.8 L700.4,604.8 L699.5,604.8 L692.9,604.8 L691.3,604.8 L686.3,604.8 L680.2,604.8 L679.7,604.8 L676.4,604.8 L667.6,604.8 L665.7,604.8 L657.5,604.8 L657.4,604.8 L652.1,604.8 L646.2,604.8 L645.4,604.8 L639.0,604.8 L632.6,604.8 L629.5,604.8 L621.2,604.8 L619.7,604.8 L610.5,604.8 L601.0,604.8 L597.6,604.8 L591.4,604.8 L586.6,604.8 L584.3,604.8 L577.4,604.8 L577.1,604.8 L570.1,604.8 L570.0,604.8 L562.7,604.8 L561.7,604.8 L551.0,604.8 L549.9,604.8 L543.8,604.8 L540.7,604.8 L534.3,604.8 L527.1,604.8 L526.0,604.8 L520.0,604.8 L516.8,604.8 L498.4,604.8 L494.7,604.8 L490.0,604.8 L480.0,604.8 L472.0,604.8 L462.8,604.8 L457.3,604.8 L451.8,604.8 L442.6,604.8 L433.4,604.8 L424.2,604.8 L416.8,604.8 L407.6,604.8 L393.0,604.8 L389.3,604.8 L385.6,604.8 L380.1,604.8 L370.9,604.8 L352.5,604.8 L345.1,604.8 L343.3,604.8 L334.1,604.8 L328.6,604.8 L327.7,604.8 L320.3,604.8 L319.4,604.8 L312.0,604.8 L310.2,604.8 L304.7,604.8 L299.2,604.8 L293.0,604.8 L291.2,604.8 L290.0,604.8 L283.8,604.8 L272.8,604.8 L270.6,604.8 L269.1,604.8 L261.8,604.8 L256.3,604.8 L255.1,604.8 L254.4,604.8 L240.0,604.8 L239.7,604.8 L234.5,604.8 L232.1,604.8 L226.8,604.8 L226.2,604.8 L225.4,604.8 L218.7,604.8 L217.6,604.8 L214.3,604.8 L211.0,604.8 L203.6,604.8 L200.0,604.8 L197.4,604.8 L196.4,604.8 L195.2,604.8 L189.2,604.8 L185.7,604.8 L183.3,604.8 L180.9,604.8 L175.0,604.8 L173.5,604.8 L171.4,604.8 L164.3,604.8 L160.7,604.8 L159.5,604.8 L156.0,604.8 L153.3,604.8 L152.4,604.8 L147.6,604.8 L145.2,604.8 L136.9,604.8 L136.8,604.8 L131.0,604.8 L130.3,604.8 L129.8,604.8 L123.8,604.8 L123.0,604.8 L121.4,604.8 L116.5,604.8 L115.5,604.8 L111.0,604.8 L108.6,604.8 L108.5,604.8Z" fill="#1f77b4" fill-opacity="0.75"/><path d="M108.5,602.9 L108.6,602.9 L111.0,601.2 L115.5,598.1 L116.5,597.4 L121.4,593.8 L123.0,592.7 L123.8,592.1 L129.8,587.2 L130.3,586.8 L131.0,586.2 L136.8,582.7 L136.9,582.6 L145.2,582.1 L147.6,582.0 L152.4,580.2 L153.3,579.8 L156.0,578.4 L159.5,576.7 L160.7,576.1 L164.3,574.3 L171.4,570.7 L173.5,569.9 L175.0,569.3 L180.9,567.1 L183.3,566.2 L185.7,565.9 L189.2,565.4 L195.2,564.5 L196.4,563.8 L197.4,563.2 L200.0,561.6 L203.6,559.4 L211.0,556.5 L214.3,555.2 L217.6,553.4 L218.7,552.8 L225.4,549.1 L226.2,548.7 L226.8,548.3 L232.1,545.1 L234.5,545.1 L239.7,545.1 L240.0,545.1 L254.4,544.0 L255.1,543.7 L256.3,543.2 L261.8,541.0 L269.1,539.3 L270.6,539.0 L272.8,538.5 L283.8,537.9 L290.0,537.0 L291.2,536.9 L293.0,536.6 L299.2,536.2 L304.7,535.8 L310.2,533.0 L312.0,532.1 L319.4,530.5 L320.3,530.3 L327.7,527.5 L328.6,527.2 L334.1,526.4 L343.3,525.1 L345.1,524.8 L352.5,524.5 L370.9,523.9 L380.1,521.0 L385.6,519.3 L389.3,517.6 L393.0,516.0 L407.6,513.8 L416.8,511.0 L424.2,509.4 L433.4,507.3 L442.6,502.7 L451.8,501.6 L457.3,500.9 L462.8,500.1 L472.0,498.7 L480.0,497.6 L490.0,496.3 L494.7,495.6 L498.4,495.1 L516.8,492.4 L520.0,491.9 L526.0,489.9 L527.1,489.5 L534.3,487.1 L540.7,486.5 L543.8,486.2 L549.9,485.9 L551.0,485.9 L561.7,485.4 L562.7,484.9 L570.0,481.2 L570.1,481.1 L577.1,477.6 L577.4,477.5 L584.3,475.0 L586.6,474.5 L591.4,473.5 L597.6,473.1 L601.0,472.9 L610.5,471.9 L619.7,468.8 L621.2,468.3 L629.5,465.1 L632.6,463.6 L639.0,460.4 L645.4,458.3 L646.2,458.0 L652.1,456.8 L657.4,458.1 L657.5,458.1 L665.7,455.6 L667.6,455.0 L676.4,448.9 L679.7,447.3 L680.2,447.3 L686.3,446.8 L691.3,446.3 L692.9,446.2 L699.5,445.2 L700.4,445.1 L701.7,444.9 L708.4,443.9 L713.3,442.7 L717.2,441.7 L722.5,441.7 L723.8,441.7 L726.0,440.4 L731.5,437.3 L731.7,437.2 L737.0,434.0 L739.0,432.5 L741.0,431.0 L748.2,430.6 L781.0,429.0 L781.3,428.9 L792.4,424.8 L799.7,422.1 L800.0,422.0 L831.0,420.2 L842.0,419.5 L860.0,417.5 L883.0,415.0 L892.0,414.0 L892.3,414.0 L910.7,411.8 L938.2,408.5 L951.0,407.0 L951.1,407.0 L975.0,403.4 L987.9,401.5 L988.0,401.5 L1013.0,400.0 L1046.3,400.0" fill="none" stroke="#aec7e8" stroke-opacity="0.55" stroke-width="0.8"/>
<circle cx="657.6" cy="365.5" r="6.5" fill="#ff9896" fill-opacity="0.9"/><circle cx="657.6" cy="458.1" r="6.5" fill="#1f77b4" fill-opacity="0.9"/><circle cx="657.6" cy="458.1" r="6.5" fill="#aec7e8" fill-opacity="0.9"/><circle cx="657.6" cy="455.6" r="6.5" fill="#ff7f0e" fill-opacity="0.9"/><circle cx="657.6" cy="452.4" r="6.5" fill="#ffbb78" fill-opacity="0.9"/><circle cx="657.6" cy="445.1" r="6.5" fill="#2ca02c" fill-opacity="0.9"/><circle cx="657.6" cy="439.4" r="6.5" fill="#98df8a" fill-opacity="0.9"/><circle cx="657.6" cy="431.3" r="6.5" fill="#d62728" fill-opacity="0.9"/>
<line x1="657.6" x2="657.6" y1="266.8" y2="605" stroke="#ffffff" stroke-opacity="0.5" stroke-width="1.6"/>
<g font-size="14.2" font-weight="bold" fill="#a9a9a9"><text x="1050" y="303.5">400</text><text x="1050" y="344.1">350</text><text x="1050" y="384.7">300</text><text x="1050" y="425.3">250</text><text x="1050" y="465.7">200</text><text x="1050" y="506.3">150</text><text x="1050" y="546.8">100</text><text x="1050" y="587.5">50</text><text x="1050" y="271.4" fill="#c4c4c4">440</text><text x="1050" y="609.4" fill="#cdcdcd">22</text><text x="314.1" y="623.5" text-anchor="middle">1 мар</text><text x="541.2" y="623.5" text-anchor="middle">1 апр</text><text x="760.6" y="623.5" text-anchor="middle">1 мая</text><text x="988.3" y="623.5" text-anchor="middle">1 июн</text><text x="108.6" y="623.5" text-anchor="middle" fill="#c6c6c6">1 фев</text><text x="1046.2" y="623.5" text-anchor="middle" fill="#c6c6c6">9 июн</text></g>
<g font-size="14.3" fill="#c2c2c2" stroke="#c2c2c2" stroke-width="0.3"><circle cx="159.3" cy="224.8" r="7.3" fill="#2380c4"/><text x="168.8" y="229.3">Готово</text><circle cx="297.0" cy="224.8" r="7.3" fill="#aec7e8"/><text x="306.5" y="229.3">Релиз</text><circle cx="376.9" cy="224.8" r="7.3" fill="#ff7f0e"/><text x="386.4" y="229.3">Приёмка и отладка</text><circle cx="537.2" cy="224.8" r="7.3" fill="#ffbb78"/><text x="546.7" y="229.3">Внутреннее тестирование</text><circle cx="747.0" cy="224.8" r="7.3" fill="#2ca02c"/><text x="756.5" y="229.3">Разработка</text><circle cx="856.2" cy="224.8" r="7.3" fill="#98df8a"/><text x="865.7" y="229.3">Анализ и согласование</text><circle cx="159.3" cy="248.7" r="7.3" fill="#dc2829"/><text x="168.8" y="253.2">Запланировано</text><circle cx="297.0" cy="248.7" r="7.3" fill="#ff9896"/><text x="306.5" y="253.2">Бэклог</text></g>
<!-- tooltip -->
<rect x="737.3" y="335.7" width="275.5" height="221.8" rx="3" fill="#111214" fill-opacity="0.98"/>
<text x="747.6" y="361.3" font-size="15.2" font-weight="bold" fill="#d9d9d9">17 апр 2022</text>
<line x1="746" x2="1004" y1="368.2" y2="368.2" stroke="#ffa9a6" stroke-width="1"/>
<line x1="746" x2="1004" y1="389.4" y2="389.4" stroke="#ffa9a6" stroke-width="1"/>
<g font-size="15.45" fill="#d0d0d0"><rect x="746.5" y="373.6" width="9.5" height="9.5" fill="#ff9896"/><text x="767.2" y="383.6">Бэклог</text><text x="993" y="383.6" text-anchor="end" font-weight="bold">81</text><rect x="746.5" y="396.4" width="9.5" height="9.5" fill="#d62728"/><text x="767.2" y="406.4">Запланировано</text><text x="993" y="406.4" text-anchor="end" font-weight="bold">10</text><rect x="746.5" y="419.2" width="9.5" height="9.5" fill="#98df8a"/><text x="767.2" y="429.2">Анализ и согласование</text><text x="993" y="429.2" text-anchor="end" font-weight="bold">7</text><rect x="746.5" y="442.0" width="9.5" height="9.5" fill="#2ca02c"/><text x="767.2" y="452.0">Разработка</text><text x="993" y="452.0" text-anchor="end" font-weight="bold">9</text><rect x="746.5" y="464.8" width="9.5" height="9.5" fill="#ffbb78"/><text x="767.2" y="474.8">Внутреннее тестирование</text><text x="993" y="474.8" text-anchor="end" font-weight="bold">4</text><rect x="746.5" y="487.6" width="9.5" height="9.5" fill="#ff7f0e"/><text x="767.2" y="497.6">Приёмка и отладка</text><text x="993" y="497.6" text-anchor="end" font-weight="bold">3</text><rect x="746.5" y="510.4" width="9.5" height="9.5" fill="#aec7e8"/><text x="767.2" y="520.4">Релиз</text><text x="993" y="520.4" text-anchor="end" font-weight="bold">0</text><rect x="746.5" y="533.2" width="9.5" height="9.5" fill="#1f77b4"/><text x="767.2" y="543.2">Готово</text><text x="993" y="543.2" text-anchor="end" font-weight="bold">203</text></g>
</svg>
</div>
</body></html>
